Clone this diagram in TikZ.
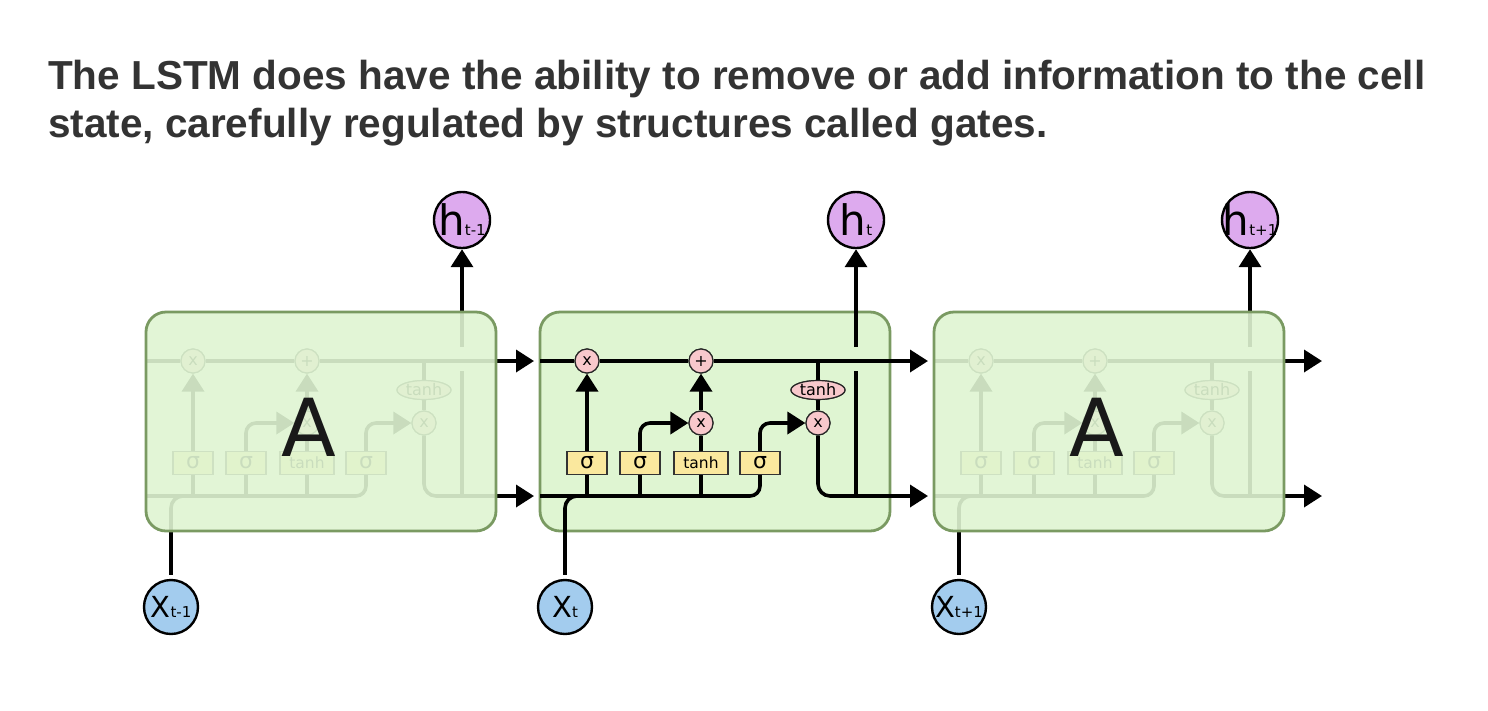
\documentclass[tikz,border=0pt]{standalone}
\usepackage{fontspec}
\usetikzlibrary{arrows.meta,shapes.geometric,calc}
\newfontfamily\titlefont{Liberation Sans}
\newfontfamily\lab{DejaVu Sans}
\definecolor{boxfill}{RGB}{223,245,210}
\definecolor{boxdraw}{RGB}{122,154,98}
\definecolor{hfill}{RGB}{221,170,238}
\definecolor{xfill}{RGB}{163,204,238}
\definecolor{opfill}{RGB}{248,200,204}
\definecolor{gatefill}{RGB}{250,232,158}
\definecolor{titlegray}{RGB}{51,51,51}
\tikzset{
  wire/.style={line width=3.6pt, line join=round, draw=black},
  arr/.style={-{Triangle[length=18pt,width=22pt]}},
  op/.style={circle, draw=black!85, line width=1.2pt, fill=opfill, minimum size=24pt, inner sep=0pt, font=\lab\fontsize{16}{16}\selectfont},
  opell/.style={ellipse, draw=black!85, line width=1.2pt, fill=opfill, minimum width=54pt, minimum height=19pt, inner sep=0pt, font=\lab\fontsize{16}{16}\selectfont},
  gate/.style={rectangle, draw=black!80, line width=1.2pt, fill=gatefill, minimum width=40pt, minimum height=23pt, inner sep=0pt, font=\lab\fontsize{22}{22}\selectfont},
  tanhgate/.style={gate, minimum width=54pt, font=\lab\fontsize{15.5}{15.5}\selectfont},
  hnode/.style={circle, draw=black, line width=2.4pt, fill=hfill, minimum size=56pt, inner sep=0pt},
  xnode/.style={circle, draw=black, line width=2.4pt, fill=xfill, minimum size=54pt, inner sep=0pt},
  cellbox/.style={rectangle, rounded corners=20pt, draw=boxdraw, line width=2.8pt, fill=boxfill, minimum width=350pt, minimum height=219pt, inner sep=0pt},
  fadedbox/.style={cellbox, fill opacity=0.9},
  bigA/.style={inner sep=0pt, font=\lab\fontsize{80}{80}\selectfont, text=black!90},
  titletext/.style={anchor=base west, inner sep=0pt, text=titlegray, font=\titlefont\bfseries\fontsize{40.5}{48}\selectfont}
}
\newcommand\hlab[1]{\makebox[0pt]{\lab\fontsize{42}{42}\selectfont h\fontsize{15}{15}\selectfont #1}}
\newcommand\xlab[1]{\makebox[0pt]{\lab\fontsize{29}{29}\selectfont X\fontsize{15}{15}\selectfont #1}}
\newcommand\lstmcell[4]{%
\begin{scope}[xshift=#2pt]
  \coordinate (#1-cin) at (0,361);
  \coordinate (#1-cout) at (388,361);
  \coordinate (#1-hin) at (0,496);
  \coordinate (#1-hout) at (388,496);
  \coordinate (#1-hj) at (316,496);
  \coordinate (#1-hg1) at (316,371);
  \coordinate (#1-hg2) at (316,347);
  \node[op] (#1-m1) at (47,361) {x};
  \node[op] (#1-p) at (161,361) {+};
  \node[op] (#1-m2) at (161,423) {x};
  \node[op] (#1-m3) at (278,423) {x};
  \node[opell] (#1-th) at (278,390) {tanh};
  \node[gate] (#1-s1) at (47,463) {σ};
  \node[gate] (#1-s2) at (100,463) {σ};
  \node[tanhgate] (#1-tb) at (161,463) {tanh};
  \node[gate] (#1-s3) at (220,463) {σ};
  \node[hnode] (#1-h) at (316,220) {\hlab{#3}};
  \node[xnode] (#1-x) at (25,607) {\xlab{#4}};
  % cell state
  \draw[wire] (#1-cin) -- (#1-m1);
  \draw[wire] (#1-m1) -- (#1-p);
  \draw[wire,arr] (#1-p) -- (#1-cout);
  % hidden input line
  \draw[wire,rounded corners=10pt] (#1-hin) -| (#1-s3);
  \draw[wire] (#1-s1) -- (#1-s1 |- #1-hin);
  \draw[wire] (#1-s2) -- (#1-s2 |- #1-hin);
  \draw[wire] (#1-tb) -- (#1-tb |- #1-hin);
  \draw[wire,rounded corners=12pt,shorten <=4pt] (#1-x) |- (#1-s1 |- #1-hin);
  % gates
  \draw[wire,arr] (#1-s1) -- (#1-m1);
  \draw[wire,arr,rounded corners=10pt] (#1-s2) |- (#1-m2);
  \draw[wire] (#1-tb) -- (#1-m2);
  \draw[wire,arr] (#1-m2) -- (#1-p);
  \draw[wire,arr,rounded corners=10pt] (#1-s3) |- (#1-m3);
  \draw[wire] (#1-th) -- (#1-th |- #1-cin);
  \draw[wire] (#1-th) -- (#1-m3);
  \draw[wire,arr,rounded corners=12pt] (#1-m3) |- (#1-hout);
  % output h
  \draw[wire] (#1-hj) -- (#1-hg1);
  \draw[wire,arr] (#1-hg2) -- (#1-h);
  \node[op] at (#1-m1) {x};
  \node[op] at (#1-p) {+};
  \node[op] at (#1-m2) {x};
  \node[op] at (#1-m3) {x};
  \node[opell] at (#1-th) {tanh};
\end{scope}}
\begin{document}
\begin{tikzpicture}[x=1pt,y=-1pt]
\useasboundingbox[fill=white] (0,0) rectangle (1488,710);
\node[titletext] (t1) at (48,89) {The LSTM does have the ability to remove or add information to the cell};
\node[titletext] (t2) at (48,137) {state, carefully regulated by structures called gates.};
\node[cellbox] (M-box) at (715,421.5) {};
\lstmcell{L}{146}{t-1}{t-1}
\lstmcell{M}{540}{t}{t}
\lstmcell{R}{934}{t+1}{t+1}
\node[fadedbox] (L-box) at (321,421.5) {};
\node[fadedbox] (R-box) at (1109,421.5) {};
\node[bigA] (L-A) at (309,427) {A};
\node[bigA] (R-A) at (1097,427) {A};
\end{tikzpicture}
\end{document}
